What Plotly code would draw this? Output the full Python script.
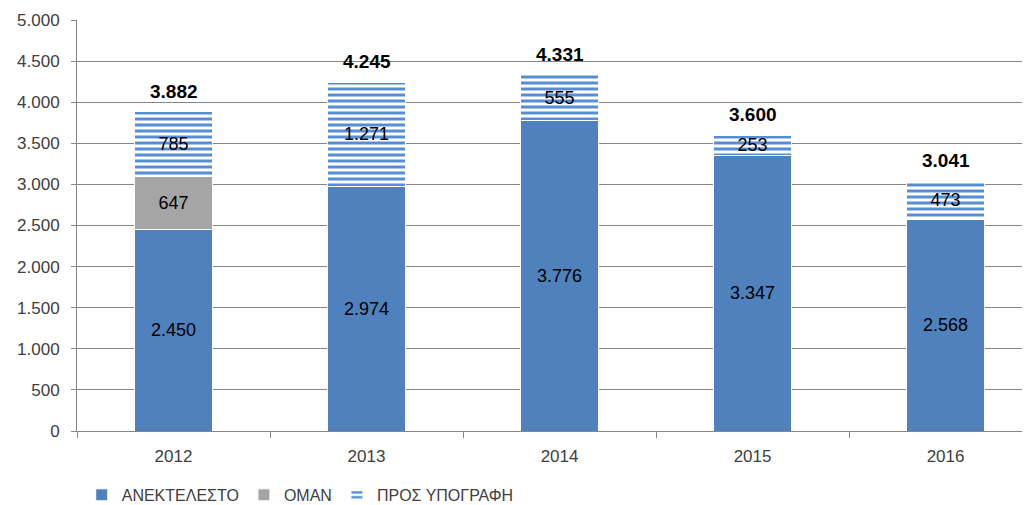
import plotly.graph_objects as go

years = ["2012", "2013", "2014", "2015", "2016"]
anektelesto = [2450, 2974, 3776, 3347, 2568]
oman = [647, None, None, None, None]
pros_ypografi = [785, 1271, 555, 253, 473]
totals = [3882, 4245, 4331, 3600, 3041]

FONT = "Liberation Sans"


def fmt(v):
    return f"{v:,}".replace(",", ".")


fig = go.Figure()

fig.add_trace(go.Bar(
    x=years, y=anektelesto, name="ΑΝΕΚΤΕΛΕΣΤΟ",
    marker=dict(color="#4F81BD", line=dict(color="white", width=1)),
    text=[fmt(v) for v in anektelesto],
    textposition="inside", insidetextanchor="middle",
    textfont=dict(color="black", size=18, family=FONT),
    width=0.4,
))
fig.add_trace(go.Bar(
    x=years, y=oman, name="ΟΜΑΝ",
    marker=dict(color="#A5A5A5", line=dict(color="white", width=1)),
    text=[fmt(v) if v else "" for v in oman],
    textposition="inside", insidetextanchor="middle",
    textfont=dict(color="black", size=18, family=FONT),
    width=0.4,
))
fig.add_trace(go.Bar(
    x=years, y=pros_ypografi, name="ΠΡΟΣ ΥΠΟΓΡΑΦΗ",
    marker=dict(color="white", line=dict(color="white", width=1),
                pattern=dict(shape="-", fgcolor="#558ED5", bgcolor="white",
                             size=6, solidity=0.5, fillmode="replace",
                             fgopacity=1)),
    text=[fmt(v) for v in pros_ypografi],
    textposition="inside", insidetextanchor="middle",
    textfont=dict(color="black", size=18, family=FONT),
    width=0.4,
))

for i, tot in enumerate(totals):
    fig.add_annotation(
        x=i, y=tot, text="<b>" + fmt(tot) + "</b>",
        showarrow=False, yanchor="bottom", yshift=8,
        font=dict(color="black", size=19, family=FONT),
    )

fig.update_layout(
    width=1027, height=505,
    margin=dict(l=77, r=5, t=20, b=74),
    barmode="stack",
    plot_bgcolor="white", paper_bgcolor="white",
    separators=",.",
    font=dict(family=FONT, size=16, color="#404040"),
    uniformtext=dict(minsize=17, mode="show"),
    legend=dict(orientation="h", x=0.005, xanchor="left",
                yref="container", y=0.02, yanchor="middle",
                font=dict(size=16, color="#404040"), itemwidth=30,
                traceorder="normal"),
    showlegend=True,
)
fig.update_xaxes(
    type="category", range=[-0.5, 4.396],
    showline=True, linecolor="#868686", linewidth=1,
    ticks="outside", tickson="boundaries", ticklen=6, tickcolor="#868686",
    ticklabelstandoff=10,
    showgrid=False, tickfont=dict(size=17, color="#404040"),
)
fig.update_yaxes(
    range=[0, 5000], dtick=500, tickformat=",d",
    showline=True, linecolor="#868686", linewidth=1,
    ticks="outside", ticklen=5, tickcolor="#868686",
    ticklabelstandoff=8,
    showgrid=True, gridcolor="#868686", gridwidth=1,
    zeroline=False, tickfont=dict(size=17, color="#404040"),
)

fig.write_html("out.html")
